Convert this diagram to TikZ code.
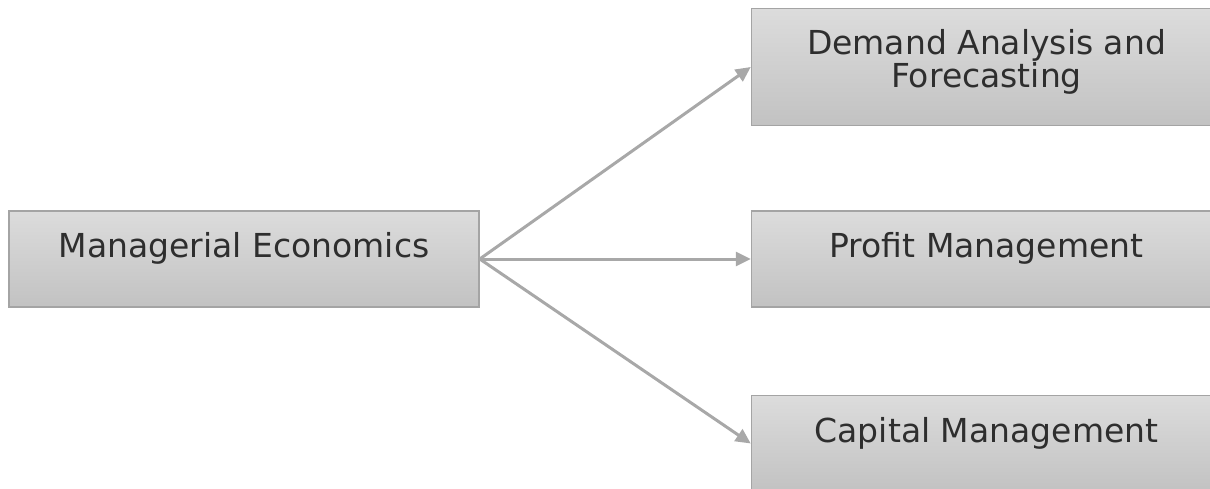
\documentclass[tikz,border=0pt]{standalone}
\usepackage{fontspec}
\setmainfont{DejaVu Sans}
\usepackage{tikz}
\usetikzlibrary{arrows.meta,positioning}
\definecolor{boxline}{HTML}{A4A4A4}
\definecolor{boxtop}{HTML}{DCDCDC}
\definecolor{boxbot}{HTML}{C2C2C2}
\definecolor{arrowgray}{HTML}{A8A8A8}
\definecolor{textgray}{HTML}{2E2E2E}
\tikzset{>={Triangle[length=15pt,width=14pt]}}
\tikzset{topic node/.style={rectangle,draw=boxline,line width=1.5pt,top color=boxtop,bottom color=boxbot,
            minimum width=470pt,minimum height=96pt,inner sep=0pt,text=textgray,
            font=\fontsize{33}{33}\selectfont,text height=24pt,text depth=27pt},
            link/.style={draw=arrowgray,line width=3pt,->}
            }

\begin{document}
\begin{tikzpicture}[x=1pt,y=1pt]
    \useasboundingbox (0,0) rectangle (1210,488);

    \node[topic node] (me) at (244,229) {Managerial Economics};
    \node[topic node] (prof) [right = 271pt of me] {Profit Management};
    \node[topic node,minimum height=117pt,align=center,text height=,text depth=18pt] (dem) [above = 84pt of prof] {Demand Analysis and\\Forecasting};
    \node[topic node] (cap) [below = 87pt of prof] {Capital Management};

    \draw[link] (me.east) -- (dem.west);
    \draw[link] (me.east) -- (prof.west);
    \draw[link] (me.east) -- (cap.west);

\end{tikzpicture}
\end{document}
